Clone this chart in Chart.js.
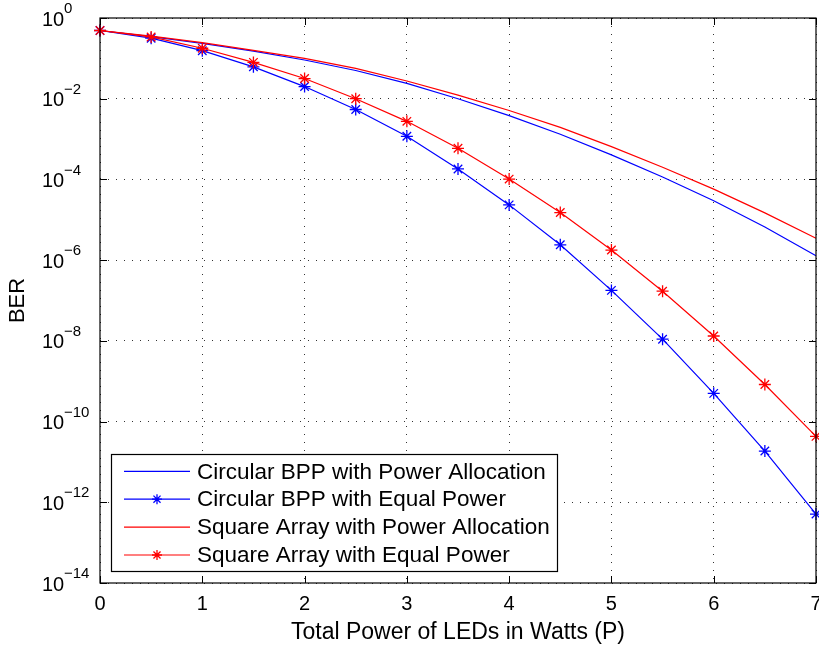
<!DOCTYPE html>
<html>
<head>
<meta charset="utf-8">
<script src="https://cdn.jsdelivr.net/npm/chart.js@4/dist/chart.umd.min.js"></script>
<style>
html,body{margin:0;padding:0;background:#ffffff;overflow:hidden;}
#wrap{width:819px;height:648px;}
</style>
</head>
<body>
<div id="wrap"><canvas id="c" width="819" height="648"></canvas></div>
<script>
// ---- data ----
const powerX = [0, 0.5, 1, 1.5, 2, 2.5, 3, 3.5, 4, 4.5, 5, 5.5, 6, 6.5, 7];
const circularPowerAlloc = [0.49, 0.347, 0.234, 0.151, 0.0912, 0.0501, 0.024, 0.01, 3.8e-3, 1.32e-3, 4.07e-4, 1.15e-4, 2.95e-5, 6.6e-6, 1.29e-6];
const circularEqualPower = [0.49, 0.316, 0.155, 0.0617, 0.02, 5.4e-3, 1.17e-3, 1.82e-4, 2.34e-5, 2.4e-6, 1.78e-7, 1.1e-8, 5.0e-10, 1.86e-11, 5.1e-13];
const squarePowerAlloc = [0.49, 0.355, 0.245, 0.158, 0.1, 0.0562, 0.0275, 0.0123, 5.1e-3, 1.95e-3, 6.5e-4, 2.0e-4, 5.75e-5, 1.48e-5, 3.5e-6];
const squareEqualPower = [0.49, 0.339, 0.178, 0.0794, 0.0316, 0.01, 2.75e-3, 5.9e-4, 1.02e-4, 1.51e-5, 1.78e-6, 1.7e-7, 1.32e-8, 8.3e-10, 4.3e-11];
const seriesLabels = [
  'Circular BPP with Power Allocation',
  'Circular BPP with Equal Power',
  'Square Array with Power Allocation',
  'Square Array with Equal Power'
];
const xTickValues = [0, 1, 2, 3, 4, 5, 6, 7];
const yTickExponents = [0, -2, -4, -6, -8, -10, -12, -14];
const xTitle = 'Total Power of LEDs in Watts (P)';
const yTitle = 'BER';

// ---- styling ----
const FONT = "'Liberation Sans', Arial, Helvetica, sans-serif";
const BLUE = '#0000ff';
const RED = '#ff0000';

function pts(ys) { return powerX.map((x, i) => ({ x: x, y: ys[i] })); }

const seriesData = [circularPowerAlloc, circularEqualPower, squarePowerAlloc, squareEqualPower];
const seriesColors = [BLUE, BLUE, RED, RED];
const seriesMarkers = [false, true, false, true];

const datasets = seriesData.map((ys, i) => ({
  label: seriesLabels[i],
  data: pts(ys),
  borderColor: seriesColors[i],
  backgroundColor: seriesColors[i],
  borderWidth: 1.2,
  pointStyle: 'star',
  pointRadius: seriesMarkers[i] ? 6 : 0,
  pointBorderWidth: 1.3,
  pointBorderColor: seriesColors[i],
  pointHoverRadius: seriesMarkers[i] ? 6 : 0,
  tension: 0,
  fill: false,
  clip: false,
  order: seriesColors[i] === RED ? 0 : 1
}));

function supText(e) {
  return e < 0 ? '\u2212' + String(-e) : String(e);
}

const PLOT = { left: 100, top: 18, right: 816, bottom: 583 };

const fixArea = {
  id: 'fixArea',
  afterLayout(chart) {
    // pin the plotting area to the reference's frame
    const ca = chart.chartArea;
    ca.left = PLOT.left; ca.right = PLOT.right; ca.top = PLOT.top; ca.bottom = PLOT.bottom;
    ca.width = PLOT.right - PLOT.left; ca.height = PLOT.bottom - PLOT.top;
    const xs = chart.scales.x, ys = chart.scales.y;
    xs.left = PLOT.left; xs.right = PLOT.right; xs.width = PLOT.right - PLOT.left;
    xs.top = PLOT.bottom; xs.bottom = 648; xs.height = 648 - PLOT.bottom;
    ys.top = PLOT.top; ys.bottom = PLOT.bottom; ys.height = PLOT.bottom - PLOT.top;
    ys.left = 0; ys.right = PLOT.left; ys.width = PLOT.left;
    xs.configure(); ys.configure();
    xs._gridLineItems = null; ys._gridLineItems = null;
    xs._labelItems = null; ys._labelItems = null;
  }
};

const matlabDecor = {
  id: 'matlabDecor',
  afterDraw(chart) {
    const ctx = chart.ctx;
    const ca = chart.chartArea;
    const xs = chart.scales.x, ys = chart.scales.y;
    ctx.save();
    // box
    ctx.strokeStyle = '#000';
    ctx.lineWidth = 1.2;
    ctx.setLineDash([]);
    ctx.strokeRect(ca.left, ca.top, ca.right - ca.left, ca.bottom - ca.top);
    // inward ticks
    const TL = 7;
    ctx.lineWidth = 1;
    ctx.beginPath();
    xTickValues.forEach(v => {
      const px = Math.round(xs.getPixelForValue(v)) + 0.5;
      ctx.moveTo(px, ca.bottom); ctx.lineTo(px, ca.bottom - TL);
      ctx.moveTo(px, ca.top); ctx.lineTo(px, ca.top + TL);
    });
    yTickExponents.forEach(e => {
      const py = Math.round(ys.getPixelForValue(Math.pow(10, e))) + 0.5;
      ctx.moveTo(ca.left, py); ctx.lineTo(ca.left + TL, py);
      ctx.moveTo(ca.right, py); ctx.lineTo(ca.right - TL, py);
    });
    ctx.stroke();
    // y tick labels 10^e
    ctx.fillStyle = '#000';
    ctx.textBaseline = 'middle';
    yTickExponents.forEach(e => {
      const py = ys.getPixelForValue(Math.pow(10, e));
      ctx.font = '20px ' + FONT;
      ctx.textAlign = 'left';
      ctx.fillText('10', 42, py + 2);
      ctx.font = '15px ' + FONT;
      ctx.fillText(supText(e), 64, py - 9);
    });
    // legend
    const L = { x: 111, y: 454, w: 446, h: 117 };
    ctx.fillStyle = '#fff';
    ctx.fillRect(L.x, L.y, L.w, L.h);
    ctx.strokeStyle = '#000';
    ctx.lineWidth = 1.2;
    ctx.strokeRect(L.x + 0.5, L.y + 0.5, L.w, L.h);
    chart.data.datasets.forEach((ds, i) => {
      const ry = L.y + 17.3 + i * 27.9;
      ctx.strokeStyle = ds.borderColor;
      ctx.fillStyle = ds.borderColor;
      ctx.lineWidth = 1.2;
      ctx.beginPath();
      ctx.moveTo(124, ry); ctx.lineTo(190, ry);
      ctx.stroke();
      if (ds.pointRadius > 0) {
        ctx.lineWidth = 1.3;
        Chart.helpers.drawPoint(ctx, { pointStyle: 'star', radius: 5, borderWidth: 1.3, rotation: 0 }, 157, ry);
      }
      ctx.fillStyle = '#000';
      ctx.font = '22.5px ' + FONT;
      ctx.textAlign = 'left';
      ctx.textBaseline = 'middle';
      ctx.fillText(ds.label, 197, ry + 1);
    });
    ctx.restore();
  }
};

new Chart(document.getElementById('c'), {
  type: 'line',
  data: { datasets: datasets },
  options: {
    responsive: false,
    animation: false,
    devicePixelRatio: 1,
    layout: { padding: { top: 18, right: 3, left: 0, bottom: 0 } },
    plugins: { legend: { display: false }, tooltip: { enabled: false } },
    scales: {
      x: {
        type: 'linear',
        min: 0, max: 7,
        afterBuildTicks(s) { s.ticks = xTickValues.map(v => ({ value: v })); },
        afterFit(s) { s.height = 65; s.paddingLeft = 0; s.paddingRight = 0; },
        ticks: { color: '#000', font: { family: FONT, size: 20 }, padding: 9, maxRotation: 0 },
        grid: { color: '#333', lineWidth: 1, drawTicks: false },
        border: { display: false, dash: [1, 7] },
        title: { display: true, text: xTitle, color: '#000', font: { family: FONT, size: 23 }, padding: { top: 0, bottom: 2 } }
      },
      y: {
        type: 'logarithmic',
        min: 1e-14, max: 1,
        afterBuildTicks(s) { s.ticks = yTickExponents.map(e => ({ value: Math.pow(10, e) })); },
        afterFit(s) { s.width = 100; s.paddingTop = 0; s.paddingBottom = 0; },
        ticks: { display: false },
        grid: { color: '#333', lineWidth: 1, drawTicks: false },
        border: { display: false, dash: [1, 7] },
        title: { display: true, text: yTitle, color: '#000', font: { family: FONT, size: 22 }, padding: { top: 5, bottom: 0 } }
      }
    }
  },
  plugins: [fixArea, matlabDecor]
});
</script>
</body>
</html>
